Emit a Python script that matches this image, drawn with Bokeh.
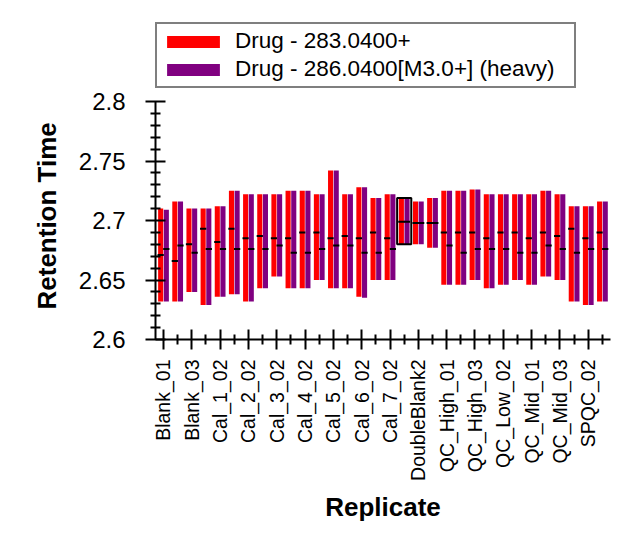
from bokeh.plotting import figure
from bokeh.models import (Range1d, FixedTicker, CustomJSTickFormatter, Legend, LegendItem,
                          ColumnDataSource, Title)
from bokeh.embed import file_html
from bokeh.resources import INLINE
import numpy as np

# ---- data ----
replicates = ["Blank_01", "Blank_02", "Blank_03", "Cal_1_01", "Cal_1_02", "Cal_2_01", "Cal_2_02",
              "Cal_3_01", "Cal_3_02", "Cal_4_01", "Cal_4_02", "Cal_5_01", "Cal_5_02", "Cal_6_01",
              "Cal_6_02", "Cal_7_01", "Cal_7_02", "DoubleBlank1", "DoubleBlank2", "DoubleBlank3",
              "QC_High_01", "QC_High_02", "QC_High_03", "QC_Low_01", "QC_Low_02", "QC_Low_03",
              "QC_Mid_01", "QC_Mid_02", "QC_Mid_03", "SPQC_01", "SPQC_02", "SPQC_03"]

light_start = [2.632, 2.632, 2.640, 2.629, 2.636, 2.638, 2.632, 2.643, 2.653, 2.643, 2.643, 2.650,
               2.643, 2.643, 2.636, 2.650, 2.650, 2.680, 2.680, 2.677, 2.646, 2.646, 2.650, 2.643,
               2.646, 2.650, 2.646, 2.653, 2.650, 2.632, 2.629, 2.632]
light_end = [2.710, 2.716, 2.710, 2.710, 2.712, 2.725, 2.722, 2.722, 2.722, 2.725, 2.725, 2.722,
             2.742, 2.722, 2.728, 2.719, 2.722, 2.719, 2.716, 2.719, 2.725, 2.725, 2.726, 2.722,
             2.722, 2.722, 2.722, 2.725, 2.722, 2.712, 2.712, 2.716]
light_apex = [2.671, 2.666, 2.680, 2.693, 2.682, 2.693, 2.685, 2.687, 2.685, 2.685, 2.690, 2.690,
              2.685, 2.687, 2.685, 2.690, 2.685, 2.699, 2.698, 2.698, 2.690, 2.690, 2.690, 2.685,
              2.690, 2.690, 2.685, 2.690, 2.687, 2.693, 2.685, 2.690]

heavy_start = [2.632, 2.632, 2.640, 2.629, 2.636, 2.638, 2.632, 2.643, 2.653, 2.643, 2.643, 2.650,
               2.643, 2.643, 2.635, 2.650, 2.650, 2.680, 2.680, 2.677, 2.646, 2.646, 2.650, 2.643,
               2.646, 2.650, 2.646, 2.653, 2.650, 2.632, 2.629, 2.632]
heavy_end = [2.709, 2.716, 2.710, 2.710, 2.712, 2.725, 2.722, 2.722, 2.722, 2.725, 2.725, 2.722,
             2.742, 2.722, 2.728, 2.719, 2.722, 2.719, 2.716, 2.719, 2.725, 2.725, 2.726, 2.722,
             2.722, 2.722, 2.722, 2.725, 2.722, 2.712, 2.712, 2.716]
heavy_apex = [2.676, 2.679, 2.673, 2.676, 2.676, 2.676, 2.676, 2.676, 2.679, 2.673, 2.673, 2.676,
              2.679, 2.679, 2.673, 2.673, 2.676, 2.699, 2.698, 2.698, 2.679, 2.673, 2.676, 2.676,
              2.676, 2.673, 2.673, 2.679, 2.676, 2.673, 2.676, 2.676]

series_names = ["Drug - 283.0400+", "Drug - 286.0400[M3.0+] (heavy)"]
series_colors = ["#FF0000", "#800080"]
selected_replicate = "DoubleBlank1"

y_ticks = [2.6, 2.65, 2.7, 2.75, 2.8]
y_minor = [2.61, 2.62, 2.63, 2.64, 2.66, 2.67, 2.68, 2.69, 2.71, 2.72, 2.73, 2.74,
           2.76, 2.77, 2.78, 2.79]

# ---- figure ----
FONT = "Liberation Sans"
# frame extends above 2.8 to hold the legend; the axis is bounded to 2.6..2.8
p = figure(width=631, height=531, output_backend="svg", toolbar_location=None,
           x_range=Range1d(-0.565, 31.57), y_range=Range1d(2.6, 2.6 + 328 / 1190),
           min_border_left=155, min_border_right=21, min_border_top=11, min_border_bottom=192)
p.outline_line_color = None
p.xgrid.visible = False
p.ygrid.visible = False
p.background_fill_color = "white"
p.border_fill_color = "white"

idx = np.arange(len(replicates))
off = 0.2
bw = 0.36
src = ColumnDataSource(dict(
    xl=idx - off, xh=idx + off,
    ls=light_start, le=light_end, la=light_apex,
    hs=heavy_start, he=heavy_end, ha=heavy_apex,
))

rl = p.vbar(x="xl", width=bw, bottom="ls", top="le", source=src,
            fill_color=series_colors[0], line_color=None)
rh = p.vbar(x="xh", width=bw, bottom="hs", top="he", source=src,
            fill_color=series_colors[1], line_color=None)

dw = 0.22
p.segment(x0=idx - off - dw, x1=idx - off + dw, y0=light_apex, y1=light_apex,
          line_color="black", line_width=2)
p.segment(x0=idx + off - dw, x1=idx + off + dw, y0=heavy_apex, y1=heavy_apex,
          line_color="black", line_width=2)

# selection box
si = replicates.index(selected_replicate)
p.quad(left=[si - 0.5], right=[si + 0.5],
       bottom=[min(light_start[si], heavy_start[si])],
       top=[max(light_end[si], heavy_end[si])],
       fill_color=None, line_color="black", line_width=2)

legend = Legend(items=[LegendItem(label=series_names[0], renderers=[rl]),
                       LegendItem(label=series_names[1], renderers=[rh])],
                location=(0, 251), orientation="vertical")
legend.glyph_width = 66
legend.glyph_height = 15
legend.label_standoff = 9
legend.label_height = 28
legend.label_width = 336
legend.padding = 3
legend.spacing = 0
legend.margin = 0
legend.label_text_font = FONT
legend.label_text_font_size = "22.5px"
legend.label_text_color = "black"
legend.border_line_color = "black"
legend.border_line_width = 2
legend.background_fill_alpha = 1
p.add_layout(legend, "center")

# x axis
xa = p.xaxis[0]
xa.ticker = FixedTicker(ticks=list(idx[::2]), minor_ticks=list(idx[1::2]))
xa.formatter = CustomJSTickFormatter(args=dict(names=replicates),
                                     code="return names[Math.round(tick)];")
xa.major_label_orientation = np.pi / 2
xa.major_label_text_font = FONT
xa.major_label_text_font_size = "19.5px"
xa.major_label_text_color = "black"
xa.major_label_standoff = 10
xa.axis_label = "Replicate"
xa.axis_label_text_font = FONT
xa.axis_label_text_font_style = "bold"
xa.axis_label_text_font_size = "26px"
xa.axis_label_text_color = "black"
xa.axis_label_standoff = 8
xa.axis_line_width = 2
xa.major_tick_line_width = 2
xa.minor_tick_line_width = 2
xa.major_tick_in = 10
xa.major_tick_out = 10
xa.minor_tick_in = 5
xa.minor_tick_out = 5

# y axis
ya = p.yaxis[0]
ya.bounds = (y_ticks[0], y_ticks[-1])
ya.ticker = FixedTicker(ticks=y_ticks, minor_ticks=y_minor)
ya.formatter = CustomJSTickFormatter(code="return String(Math.round(tick*100)/100);")
ya.major_label_text_font = FONT
ya.major_label_text_font_size = "24px"
ya.major_label_text_color = "black"
ya.major_label_standoff = 20
ya.axis_line_width = 2
ya.major_tick_line_width = 2
ya.minor_tick_line_width = 2
ya.major_tick_in = 10
ya.major_tick_out = 10
ya.minor_tick_in = 5
ya.minor_tick_out = 5

# y axis title, placed along the bounded axis rather than the taller frame
ytitle = Title(text="Retention Time", align="left", offset=30, standoff=28,
               text_font=FONT, text_font_style="bold", text_font_size="26px",
               text_color="black")
p.add_layout(ytitle, "left")

open("out.html", "w").write(file_html(p, INLINE))
